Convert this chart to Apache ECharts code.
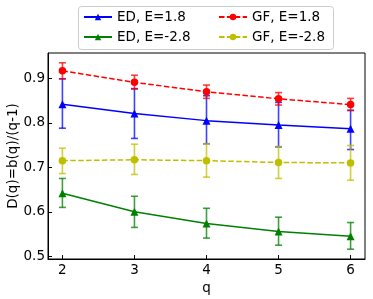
<!DOCTYPE html>
<html><head><meta charset="utf-8">
<script src="https://cdn.jsdelivr.net/npm/echarts@6/dist/echarts.min.js"></script>
<style>html,body{margin:0;padding:0;background:#fff}#c{width:373px;height:299px}</style>
</head><body><div id="c"></div>
<script>
const qValues = [2, 3, 4, 5, 6];
const edPos = [0.842, 0.821, 0.805, 0.795, 0.787];
const edPosLow = [0.788, 0.765, 0.753, 0.746, 0.740];
const edPosHigh = [0.899, 0.877, 0.861, 0.846, 0.828];
const gfPos = [0.917, 0.891, 0.870, 0.854, 0.841];
const gfPosLow = [0.899, 0.876, 0.855, 0.840, 0.828];
const gfPosHigh = [0.935, 0.907, 0.885, 0.868, 0.855];
const edNeg = [0.642, 0.600, 0.574, 0.556, 0.545];
const edNegLow = [0.610, 0.565, 0.541, 0.525, 0.516];
const edNegHigh = [0.675, 0.635, 0.608, 0.588, 0.576];
const gfNeg = [0.715, 0.717, 0.715, 0.711, 0.710];
const gfNegLow = [0.686, 0.684, 0.678, 0.675, 0.671];
const gfNegHigh = [0.743, 0.752, 0.753, 0.747, 0.749];
const yTicks = [0.5, 0.6, 0.7, 0.8, 0.9];
const xTicks = [2, 3, 4, 5, 6];

const FONT = 'DejaVu Sans';
const pts = v => qValues.map((q, i) => [q, v[i]]);
const errs = (lo, hi) => qValues.map((q, i) => [q, lo[i], hi[i]]);

function errSeries(name, color, lo, hi) {
  return {
    type: 'custom', name: name + ' err', silent: true, z: 1,
    data: errs(lo, hi),
    renderItem: function (params, api) {
      const x = api.value(0);
      const pl = api.coord([x, api.value(1)]);
      const ph = api.coord([x, api.value(2)]);
      const w = 3.5;
      const st = { stroke: color, lineWidth: 1.6, opacity: 0.75 };
      return { type: 'group', children: [
        { type: 'line', shape: { x1: pl[0], y1: pl[1], x2: ph[0], y2: ph[1] }, style: st },
        { type: 'line', shape: { x1: pl[0] - w, y1: pl[1], x2: pl[0] + w, y2: pl[1] }, style: st },
        { type: 'line', shape: { x1: ph[0] - w, y1: ph[1], x2: ph[0] + w, y2: ph[1] }, style: st }
      ]};
    }
  };
}
function lineSeries(name, color, vals, symbol, dashed) {
  return {
    type: 'line', name: name, data: pts(vals), z: 3,
    symbol: symbol, symbolSize: symbol === 'triangle' ? 8 : 7.5,
    showSymbol: true,
    itemStyle: { color: color },
    lineStyle: { color: color, width: 1.5, type: dashed ? [5.5, 2.4] : 'solid' },
    animation: false
  };
}

const chart = echarts.init(document.getElementById('c'));
const legendCommon = {
  orient: 'vertical', top: 10, itemWidth: 28, itemHeight: 8, itemGap: 6,
  textStyle: { fontFamily: FONT, fontSize: 13.5, color: '#000', padding: [0, 0, 0, 0] },
  padding: 0
};
chart.setOption({
  animation: false,
  backgroundColor: '#fff',
  graphic: [{
    type: 'rect', left: 78, top: 6, z: -1,
    shape: { width: 255, height: 43, r: 3 },
    style: { fill: '#fff', stroke: '#cccccc', lineWidth: 1 }
  }],
  legend: [
    Object.assign({ left: 83, data: ['ED, E=1.8', 'ED, E=-2.8'] }, legendCommon),
    Object.assign({ left: 218, data: ['GF, E=1.8', 'GF, E=-2.8'] }, legendCommon)
  ],
  grid: { left: 48, right: 8, top: 53, bottom: 40, show: true, borderColor: '#000', borderWidth: 1,
    containLabel: false, outerBoundsMode: 'none' },
  xAxis: {
    type: 'value', min: 1.8, max: 6.2,
    name: 'q', nameLocation: 'middle', nameGap: 22, nameMoveOverlap: false,
    nameTextStyle: { fontFamily: FONT, fontSize: 13.5, color: '#000' },
    axisLine: { show: true, onZero: false, lineStyle: { color: '#000', width: 1 } },
    axisTick: { show: true, inside: true, length: 4, customValues: xTicks, lineStyle: { color: '#000' } },
    axisLabel: { fontFamily: FONT, fontSize: 13.5, color: '#000', margin: 4, customValues: xTicks },
    splitLine: { show: false }
  },
  yAxis: {
    type: 'value', min: 0.494, max: 0.957,
    name: 'D(q)=b(q)/(q-1)', nameLocation: 'middle', nameGap: 28, nameMoveOverlap: false,
    nameTextStyle: { fontFamily: FONT, fontSize: 13.5, color: '#000' },
    axisLine: { show: true, onZero: false, lineStyle: { color: '#000', width: 1 } },
    axisTick: { show: true, inside: true, length: 4, customValues: yTicks, lineStyle: { color: '#000' } },
    axisLabel: { fontFamily: FONT, fontSize: 13.5, color: '#000', margin: 3, customValues: yTicks,
      formatter: v => v.toFixed(1) },
    splitLine: { show: false }
  },
  series: [
    errSeries('ED, E=1.8', '#0000ff', edPosLow, edPosHigh),
    lineSeries('ED, E=1.8', '#0000ff', edPos, 'triangle', false),
    errSeries('GF, E=1.8', '#ff0000', gfPosLow, gfPosHigh),
    lineSeries('GF, E=1.8', '#ff0000', gfPos, 'circle', true),
    errSeries('ED, E=-2.8', '#008000', edNegLow, edNegHigh),
    lineSeries('ED, E=-2.8', '#008000', edNeg, 'triangle', false),
    errSeries('GF, E=-2.8', '#bfbf00', gfNegLow, gfNegHigh),
    lineSeries('GF, E=-2.8', '#bfbf00', gfNeg, 'circle', true)
  ]
});
</script></body></html>
